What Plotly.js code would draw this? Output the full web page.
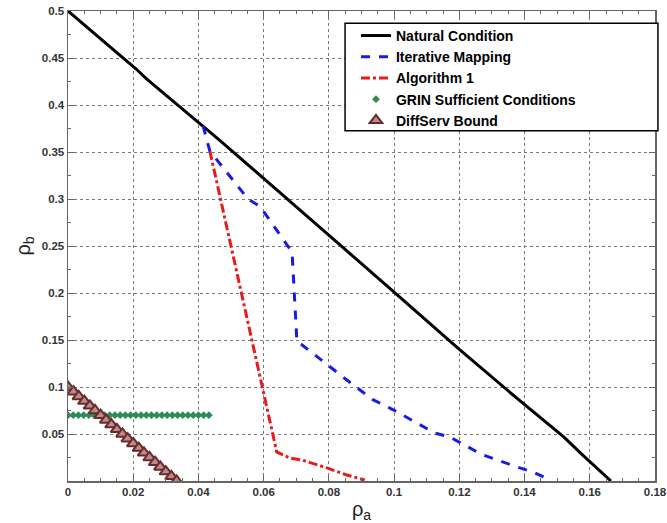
<!DOCTYPE html>
<html><head><meta charset="utf-8">
<script src="https://cdn.plot.ly/plotly-3.0.1.min.js"></script>
<style>body{margin:0;background:#fff}#c{width:667px;height:523px}</style>
</head><body><div id="c"></div>
<script>
const naturalX = [0,0.021,0.024,0.041,0.046,0.056,0.066,0.069,0.1,0.12,0.138,0.152,0.158,0.1665];
const naturalY = [0.5,0.438,0.428,0.379,0.364,0.334,0.304,0.294,0.201,0.14,0.087,0.047,0.027,0];
const iterX = [0.0414,0.0435,0.0552,0.0589,0.0674,0.0687,0.0702,0.0717,0.0864,0.0935,0.0996,0.1125,0.117,0.127,0.1376,0.1426,0.148];
const iterY = [0.378,0.351,0.300,0.292,0.25,0.244,0.148,0.145,0.105,0.0865,0.076,0.051,0.047,0.028,0.015,0.0096,0.001];
const algX = [0.0435,0.0604,0.0625,0.064,0.068,0.072,0.0794,0.0855,0.091];
const algY = [0.351,0.0865,0.051,0.031,0.0245,0.022,0.0139,0.0064,0.001];
const grinX = [0,0.0016,0.0032,0.0048,0.0064,0.008,0.0096,0.0112,0.0128,0.0144,0.016,0.0176,0.0192,0.0208,0.0224,0.024,0.0256,0.0272,0.0288,0.0304,0.032,0.0336,0.0352,0.0368,0.0384,0.04,0.0416,0.0432];
const grinY = [0.07,0.07,0.07,0.07,0.07,0.07,0.07,0.07,0.07,0.07,0.07,0.07,0.07,0.07,0.07,0.07,0.07,0.07,0.07,0.07,0.07,0.07,0.07,0.07,0.07,0.07,0.07,0.07];
const diffX = [0,0.0017,0.0033,0.005,0.0067,0.0083,0.01,0.0117,0.0133,0.015,0.0167,0.0183,0.02,0.0217,0.0233,0.025,0.0267,0.0283,0.03,0.0317,0.0333];
const diffY = [0.1,0.095,0.09,0.085,0.08,0.075,0.07,0.065,0.06,0.055,0.05,0.045,0.04,0.035,0.03,0.025,0.02,0.015,0.01,0.005,0];
const xTicks = [0,0.02,0.04,0.06,0.08,0.1,0.12,0.14,0.16,0.18];
const xTickText = ['0','0.02','0.04','0.06','0.08','0.1','0.12','0.14','0.16','0.18'];
const yTicks = [0.05,0.1,0.15,0.2,0.25,0.3,0.35,0.4,0.45,0.5];
const yTickText = ['0.05','0.1','0.15','0.2','0.25','0.3','0.35','0.4','0.45','0.5'];

const traces = [
 {x:naturalX,y:naturalY,mode:'lines',name:'Natural Condition',line:{color:'#000',width:3}},
 {x:iterX,y:iterY,mode:'lines',name:'Iterative Mapping',line:{color:'#1a1ae6',width:3,dash:'dash'}},
 {x:algX,y:algY,mode:'lines',name:'Algorithm 1',line:{color:'#e81a1a',width:3,dash:'dashdot'}},
 {x:grinX,y:grinY,mode:'markers',name:'GRIN Sufficient Conditions',marker:{symbol:'diamond',color:'#2e8b57',size:6}},
 {x:diffX,y:diffY,mode:'markers',name:'DiffServ Bound',marker:{symbol:'triangle-up',color:'#b88c8c',size:11,line:{color:'#6b2a2a',width:2}}}
];
const fnt = {family:'Liberation Sans, Arial, sans-serif',size:11.5,color:'#333',weight:'bold'};
const layout = {
 width:667,height:523,margin:{l:68,r:12,t:11,b:42},
 paper_bgcolor:'#fff',plot_bgcolor:'#fff',showlegend:true,
 xaxis:{range:[0,0.18],tickvals:xTicks,ticktext:xTickText,ticks:'inside',ticklen:6,tickcolor:'#666',
   showline:true,linecolor:'#666',linewidth:1.5,mirror:'ticks',showgrid:true,gridcolor:'#777',griddash:'dot',gridwidth:1,
   zeroline:false,tickfont:fnt,minor:{dtick:0.005,ticks:'inside',ticklen:3,tickcolor:'#666',showgrid:false},
   title:{text:'ρ<sub>a</sub>',font:{family:'Liberation Sans, Arial, sans-serif',size:20,color:'#222'},standoff:8}},
 yaxis:{range:[0,0.5],tickvals:yTicks,ticktext:yTickText,ticks:'inside',ticklen:6,tickcolor:'#666',
   showline:true,linecolor:'#666',linewidth:1.5,mirror:'ticks',showgrid:true,gridcolor:'#777',griddash:'dot',gridwidth:1,
   zeroline:false,tickfont:fnt,minor:{dtick:0.025,ticks:'inside',ticklen:3,tickcolor:'#666',showgrid:false},
   title:{text:'ρ<sub>b</sub>',font:{family:'Liberation Sans, Arial, sans-serif',size:20,color:'#222'},standoff:6}},
 shapes:[{type:'rect',xref:'paper',yref:'paper',x0:0.472,x1:1.005,y0:0.745,y1:0.974,
   line:{color:'#000',width:1.5},fillcolor:'#fff',layer:'above'}],
 legend:{x:0.4906,y:0.981,xanchor:'left',yanchor:'top',bgcolor:'rgba(0,0,0,0)',borderwidth:0,
   font:{family:'Liberation Sans, Arial, sans-serif',size:14,color:'#000',weight:'bold'},tracegroupgap:0}
};
Plotly.newPlot('c',traces,layout,{displayModeBar:false,staticPlot:true});
</script></body></html>
